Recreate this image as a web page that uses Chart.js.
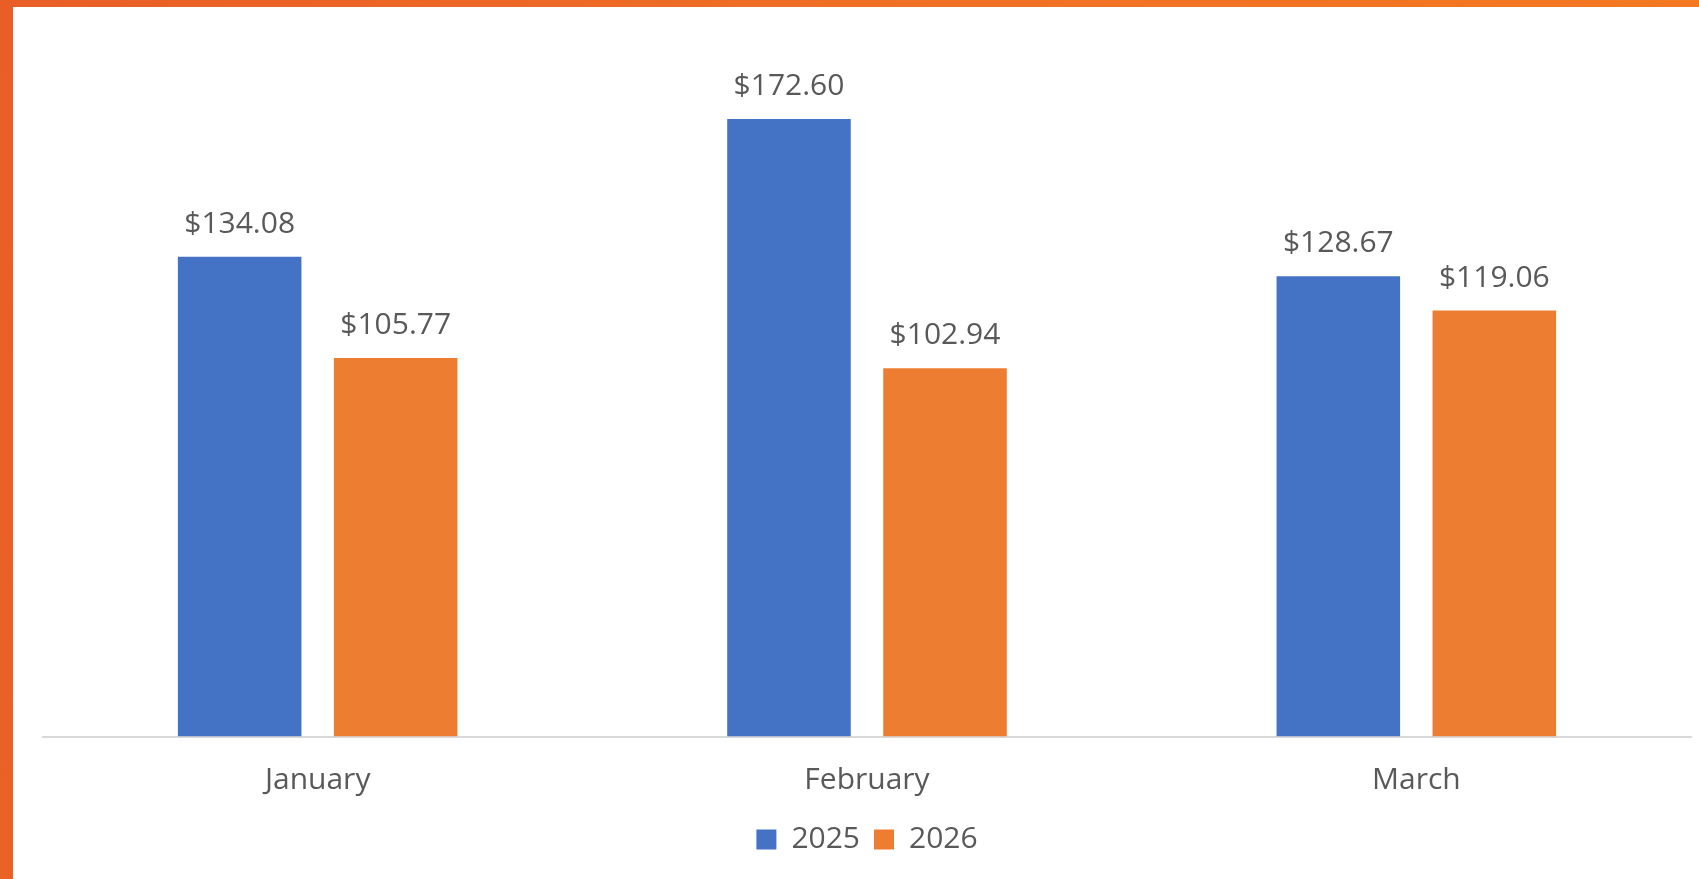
<!DOCTYPE html>
<html>
<head>
<meta charset="utf-8">
<script src="https://cdn.jsdelivr.net/npm/chart.js@4"></script>
<style>
  html, body { margin: 0; padding: 0; }
  body {
    width: 1699px; height: 879px; overflow: hidden;
    background: linear-gradient(100deg, #E95E27 0%, #F07024 50%, #F47A21 100%);
    position: relative;
  }
  .card {
    position: absolute; left: 13px; top: 7px; right: 0; bottom: 0;
    background: #fff;
  }
  .card canvas { display: block; }
</style>
</head>
<body>
<div class="card">
  <canvas id="salesChart" width="1686" height="872"></canvas>
</div>
<script>
  const months = ['January', 'February', 'March'];
  const values2025 = [134.08, 172.60, 128.67];
  const values2026 = [105.77, 102.94, 119.06];
  const seriesNames = ['2025', '2026'];
  const yMin = 0;
  const yMax = 200;

  const textColor = '#595959';
  const fontFamily = '"Open Sans", sans-serif';

  const fmt = (v) => '$' + v.toFixed(2);

  const valueLabels = {
    id: 'valueLabels',
    afterDatasetsDraw(chart) {
      const ctx = chart.ctx;
      ctx.save();
      ctx.font = '30px ' + fontFamily;
      ctx.fillStyle = textColor;
      ctx.textAlign = 'center';
      ctx.textBaseline = 'alphabetic';
      chart.data.datasets.forEach((ds, i) => {
        chart.getDatasetMeta(i).data.forEach((bar, j) => {
          ctx.fillText(fmt(ds.data[j]), bar.x, bar.y - 24);
        });
      });
      ctx.restore();
    }
  };

  new Chart(document.getElementById('salesChart'), {
    type: 'bar',
    data: {
      labels: months,
      datasets: [
        { label: seriesNames[0], data: values2025, backgroundColor: '#4472C4' },
        { label: seriesNames[1], data: values2026, backgroundColor: '#ED7D31' }
      ]
    },
    options: {
      responsive: false,
      animation: false,
      categoryPercentage: 0.568,
      barPercentage: 0.792,
      layout: { padding: { left: 30, right: 8, top: 14, bottom: 14.5 } },
      plugins: {
        tooltip: { enabled: false },
        legend: {
          position: 'bottom',
          labels: {
            boxWidth: 20,
            boxHeight: 20,
            padding: 14,
            color: textColor,
            font: { family: fontFamily, size: 30 }
          }
        }
      },
      scales: {
        x: {
          grid: { display: false, drawTicks: false },
          border: { color: '#D9D9D9', width: 2 },
          ticks: { color: textColor, padding: 26, font: { family: fontFamily, size: 30 } },
          afterFit: (scale) => { scale.height -= 14; }
        },
        y: {
          display: false,
          min: yMin,
          max: yMax
        }
      }
    },
    plugins: [valueLabels]
  });
</script>
</body>
</html>
